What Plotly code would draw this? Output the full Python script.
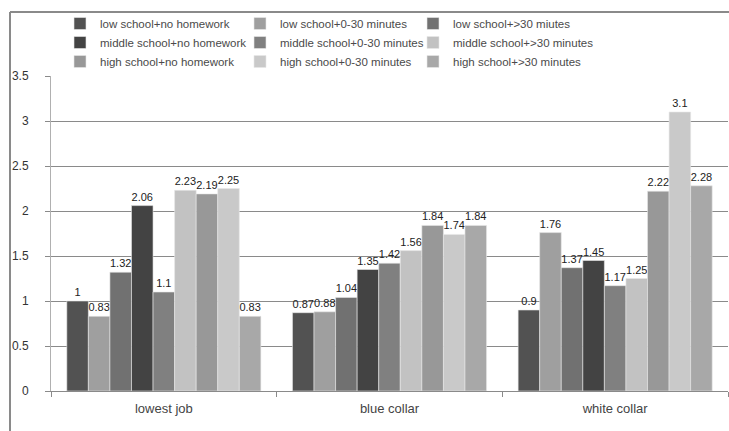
import plotly.graph_objects as go

categories = ["lowest job", "blue collar", "white collar"]
series_names = [
    "low school+no homework",
    "low school+0-30 minutes",
    "low school+>30 miutes",
    "middle school+no homework",
    "middle school+0-30 minutes",
    "middle school+>30 minutes",
    "high school+no homework",
    "high school+0-30 minutes",
    "high school+>30 minutes",
]
low_no = [1, 0.87, 0.9]
low_0_30 = [0.83, 0.88, 1.76]
low_30 = [1.32, 1.04, 1.37]
mid_no = [2.06, 1.35, 1.45]
mid_0_30 = [1.1, 1.42, 1.17]
mid_30 = [2.23, 1.56, 1.25]
high_no = [2.19, 1.84, 2.22]
high_0_30 = [2.25, 1.74, 3.1]
high_30 = [0.83, 1.84, 2.28]
series_values = [low_no, low_0_30, low_30, mid_no, mid_0_30, mid_30, high_no, high_0_30, high_30]
colors = ["#525252", "#9f9f9f", "#717171", "#434343", "#808080",
          "#c2c2c2", "#989898", "#c9c9c9", "#a8a8a8"]
y_ticks = [0, 0.5, 1, 1.5, 2, 2.5, 3, 3.5]
y_tick_labels = ["0", "0.5", "1", "1.5", "2", "2.5", "3", "3.5"]

W, H = 729, 431
ML, MR, MT, MB = 51, 1, 76, 40
PW, PH = W - ML - MR, H - MT - MB

legend_ids = ["legend", "legend2", "legend3"]

fig = go.Figure()
for i, (name, vals, col) in enumerate(zip(series_names, series_values, colors)):
    fig.add_trace(go.Bar(
        x=categories, y=vals, name=name,
        legend=legend_ids[i % 3],
        marker=dict(color=col, line=dict(color="#e8e8e8", width=0.6)),
        text=[f"{v:g}" for v in vals],
        textposition="outside",
        textfont=dict(family="Liberation Sans, Arial, sans-serif", size=11, color="#222222"),
        constraintext="none",
        cliponaxis=False,
    ))

def px_x(p):
    return (p - ML) / PW

def px_y(p):
    return (H - MB - p) / PH

legend_common = dict(
    orientation="v", xanchor="left", y=px_y(9), yanchor="top",
    traceorder="normal",
    font=dict(family="Liberation Sans, Arial, sans-serif", size=11.5, color="#4a4a4a"),
    bgcolor="rgba(0,0,0,0)", borderwidth=0, itemwidth=30,
)

grid_color = "#8a8a8a"
fig.update_layout(
    width=W, height=H,
    margin=dict(l=ML, r=MR, t=MT, b=MB, pad=0),
    paper_bgcolor="white", plot_bgcolor="white",
    barmode="group", bargap=0.14, bargroupgap=0,
    font=dict(family="Liberation Sans, Arial, sans-serif", color="#444444"),
    showlegend=True,
    legend=dict(x=px_x(60), **legend_common),
    legend2=dict(x=px_x(240), **legend_common),
    legend3=dict(x=px_x(413), **legend_common),
    xaxis=dict(
        type="category", showgrid=False, ticks="outside", tickson="boundaries",
        ticklen=5, tickcolor=grid_color, showline=True, linecolor=grid_color, linewidth=1,
        tickfont=dict(size=13, color="#444444"), ticklabelstandoff=5, fixedrange=True,
    ),
    yaxis=dict(
        range=[0, 3.5], tickvals=y_ticks, ticktext=y_tick_labels,
        showgrid=True, gridcolor=grid_color, gridwidth=1,
        ticks="outside", ticklen=5, tickcolor=grid_color,
        showline=True, linecolor="#b0b0b0", linewidth=1, zeroline=False,
        tickfont=dict(size=12, color="#333333"), ticklabelstandoff=14,
    ),
    shapes=[
        dict(type="line", xref="paper", yref="paper", x0=px_x(10), x1=px_x(729),
             y0=px_y(12), y1=px_y(12), line=dict(color="#8a8a8a", width=2), layer="below"),
        dict(type="line", xref="paper", yref="paper", x0=px_x(10), x1=px_x(10),
             y0=px_y(12), y1=px_y(431), line=dict(color="#8a8a8a", width=2), layer="below"),
    ],
)

fig.write_html("out.html")
